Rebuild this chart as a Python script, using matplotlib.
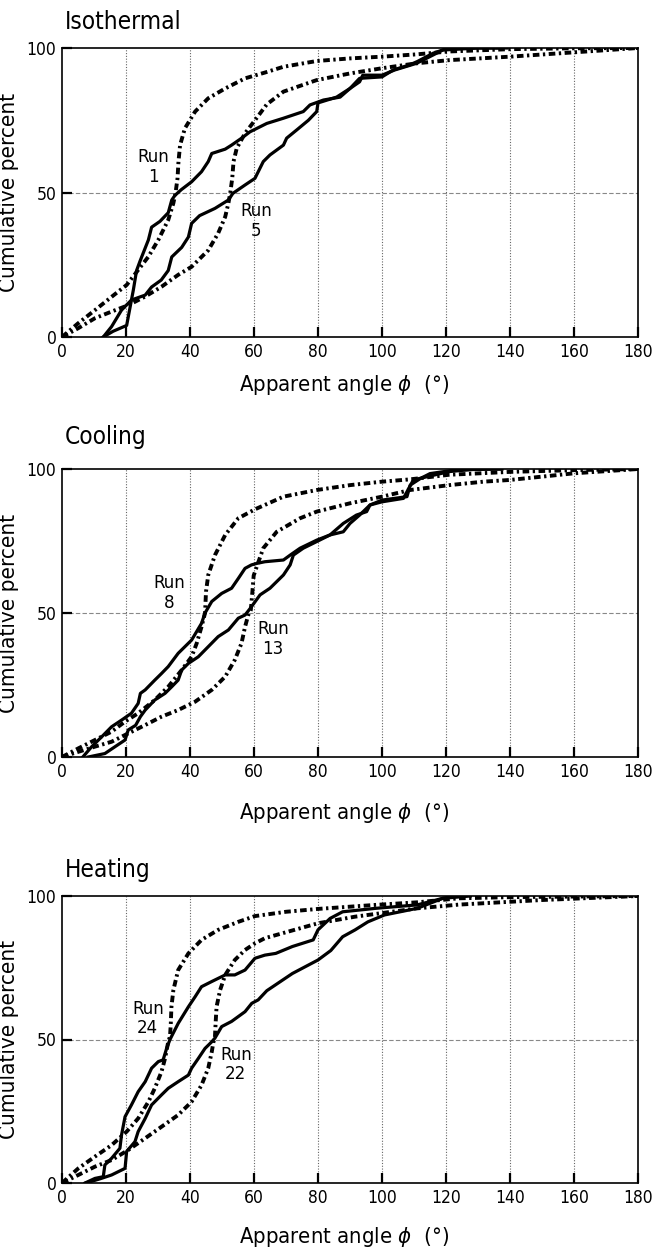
import matplotlib
matplotlib.use("Agg")
from matplotlib import pyplot as plt
from matplotlib import font_manager

# narrow sans if there is one, else DejaVu condensed
names = {f.name for f in font_manager.fontManager.ttflist}
narrow = [n for n in ['Liberation Sans Narrow', 'DejaVu Sans Condensed'] if n in names]
plt.rcParams['font.family'] = narrow + ['DejaVu Sans']
plt.rcParams['font.stretch'] = 'condensed'
plt.rcParams['mathtext.fontset'] = 'dejavusans'

# ---- Isothermal ----
run1_fit_x = [0, 5, 10.3, 15.5, 20.2, 23.8, 27, 30.1, 33.2, 34.8, 35.5, 36.1, 36.4, 36.9, 38.4, 41.6,
              45.7, 51, 57.2, 63.4, 69.2, 79.6, 90, 100, 110.8, 121, 140, 160, 180]
run1_fit_y = [0, 4.7, 9.3, 13.9, 18, 23.2, 27.8, 33.6, 40.5, 46.3, 50, 54.9, 60.7, 66.4, 72.2, 78,
              82.6, 86, 89.5, 91.5, 93.5, 95.5, 96.4, 97, 97.8, 98.8, 99.6, 99.9, 100]
run5_fit_x = [0, 5, 10.3, 15.5, 20.7, 26, 31.1, 36.3, 40.5, 45.7, 48.8, 51, 52, 52.6, 53.2, 53.6,
              54.6, 57.2, 60.3, 64, 69.2, 79.6, 90, 100, 110.8, 121, 140, 160, 180]
run5_fit_y = [0, 3, 6.5, 8.8, 11, 14, 17.4, 21.5, 24.3, 30, 35.9, 41.6, 46.3, 50, 54.9, 60.7,
              65.3, 70.5, 75, 80.5, 84.9, 88.9, 91.2, 93, 94.7, 95.8, 97, 98.5, 100]
run1_x = [12.9, 16, 20.2, 22.3, 23.3, 24.4, 27, 28, 30.6, 33.2, 34.3, 35.3, 37.3, 40.5, 43.6, 45.7,
          46.8, 51, 53, 56, 58.75, 64, 69.2, 75.4, 77.5, 81.7, 86.9, 90, 93, 100, 103.5, 108.5,
          111, 116, 120, 130, 137]
run1_y = [0, 2, 4, 16.3, 23, 26.3, 33.6, 38, 40, 43, 47.4, 49, 51, 53.7, 57.2, 60.7,
          63.5, 65, 66.4, 68.7, 71, 73.9, 75.7, 78, 80.3, 82, 83, 86, 89.5, 90, 92.4, 94.1,
          95.3, 98.2, 99.7, 100, 100]
run5_x = [12.9, 15.5, 18.6, 21.7, 26, 28, 31, 33.2, 34.3, 37.4, 39.5, 40.5, 43, 47.8, 52, 53.4,
          57.2, 60.3, 62.9, 65, 69.2, 70.2, 73.3, 77, 79.6, 80, 85.8, 90, 93, 94, 100, 104,
          110.8, 116, 119, 130, 139]
run5_y = [0, 3.6, 9.3, 12.8, 14.5, 17.3, 19.7, 23, 27.7, 31, 34.6, 39.3, 42, 44.5, 47.4, 49.7,
          52.6, 54.9, 60.7, 63, 66.4, 68.8, 71.6, 75, 78, 81, 83, 86, 88.3, 90.6, 90.6, 92.4,
          94.7, 97.6, 99.3, 100, 100]

# ---- Cooling ----
run8_fit_x = [0, 5.1, 10.3, 15.5, 19.7, 23.8, 29, 33.2, 37.4, 40.5, 42.1, 43.6, 44.7, 45, 45.7,
              47.8, 51, 55.1, 60.3, 69.2, 79.6, 90, 100, 108.75, 121, 140, 160, 180]
run8_fit_y = [0, 3, 5.9, 8.8, 12.3, 15.2, 19.8, 24.4, 30.2, 34.8, 39.5, 45.2, 50, 57.4, 63.2,
              70.1, 77.1, 82.9, 86, 90.4, 92.7, 94.4, 95.6, 96.4, 98, 99, 99.6, 100]
run13_fit_x = [0, 5.1, 10.3, 15.5, 20.7, 26, 31.1, 36.3, 41.6, 46.8, 51, 54, 56.1, 57.2, 58.2, 59,
               59.5, 59.9, 61.3, 62.9, 67.1, 74.4, 79.6, 90, 100, 108.75, 121, 131.7, 140, 160, 180]
run13_fit_y = [0, 1.8, 3.6, 5.3, 8.2, 11.1, 14, 16.3, 19.2, 23.3, 27.9, 33.7, 39.5, 45.2, 49.3, 51,
               57.4, 63, 67.5, 72.5, 78.2, 82.9, 85.2, 88.1, 90.4, 92.7, 94.4, 95.6, 96.2, 98.5, 100]
run8_x = [6.5, 9.3, 12.4, 15.5, 18.6, 21.7, 23.8, 24.5, 26, 29, 31.1, 33.2, 36.3, 38.4, 40.5, 43.6,
          44.7, 46.8, 49.9, 53, 55.1, 57.2, 59.2, 60.8, 63.4, 69.2, 71.3, 74.4, 79.6, 83.75, 87.9,
          90, 93, 96.25, 100, 106.7, 107.8, 109.8, 114, 121, 129.6, 137.5]
run8_y = [0, 3.6, 7, 10.5, 12.8, 15.2, 18.6, 22.1, 23.3, 26.7, 29, 31.4, 36, 38.3, 40.6, 46.4,
          50, 54, 56.8, 58.6, 62, 65.5, 66.7, 67.2, 67.8, 68.4, 70.1, 72.5, 75.3, 77.1, 78.2,
          81.1, 84, 87.5, 88.6, 89.8, 92.1, 96.2, 97.3, 99.1, 100, 100]
run13_x = [8.2, 13.4, 16.6, 19.7, 20.7, 23, 24.5, 26, 29, 32.2, 34.3, 36.3, 37.4, 39.5, 42.6, 45.7,
           48.8, 52, 55.1, 57.2, 58.75, 61.9, 65, 69.2, 71.3, 72.3, 75.4, 79.6, 83.75, 87.9, 92,
           95.2, 96.25, 100, 107.8, 108.8, 112, 115, 123, 137]
run13_y = [0, 1.2, 3.6, 5.9, 9.4, 11, 14, 16.3, 19.8, 22.1, 24.4, 26.7, 30.2, 32.5, 34.8, 38.3,
           41.8, 44.1, 48.2, 49.3, 51.5, 56.3, 58.6, 63.2, 66.7, 70.1, 72.5, 74.8, 77.1, 81.1, 84,
           85.2, 87.5, 89.2, 90.4, 94.4, 96.7, 98.4, 99.7, 100]

# ---- Heating ----
run24_fit_x = [0, 5.1, 10.3, 15.5, 20.2, 23.8, 27, 29, 31.1, 32.2, 33.2, 33.75, 34, 34.2, 34.8, 36.3,
               39.5, 43.6, 48.8, 55.1, 60.3, 70, 80, 98, 111, 124, 140, 160, 180]
run24_fit_y = [0, 5.1, 9.2, 13.2, 17.9, 22.5, 28.3, 33, 38.8, 43.4, 49.2, 51, 55.6, 61.4, 67.2, 74.2,
               80, 84.7, 88.2, 91, 93, 94.5, 95.5, 96.9, 97.8, 99.2, 99.6, 99.8, 100]
run22_fit_x = [0, 5.1, 10.3, 15.5, 20.7, 26, 31.1, 36.3, 40.5, 43.6, 45.7, 46.8, 47.3, 47.8, 48, 48.3,
               49.4, 51, 54, 57.2, 60.3, 63.4, 72, 80, 91.6, 111, 124, 150, 180]
run22_fit_y = [0, 2.8, 5.7, 8, 11.5, 15.6, 19.6, 23.7, 28.3, 34.1, 40, 45.7, 49, 51, 55.6, 61.4,
               67.2, 72.5, 77.7, 81.2, 83.5, 85.3, 88, 90.5, 92.8, 95.7, 97, 98.6, 100]
run24_x = [7.2, 10.3, 12.9, 13.4, 15.5, 18.1, 18.6, 19.7, 21.7, 23.8, 26, 28, 30.1, 31.6, 32.7, 33.75,
           34.2, 36.3, 39.5, 41.6, 43.6, 46.8, 51, 54, 57.2, 60.3, 63.4, 66.8, 72, 78.5, 80, 83.8,
           87.7, 98, 111, 119, 123]
run24_y = [0, 1.6, 2.2, 6.3, 8.6, 12.1, 16.7, 23.1, 27.2, 31.8, 35.3, 40, 42.3, 42.9, 46.9, 50,
           51, 55.6, 61.4, 64.9, 68.4, 70.2, 72.5, 72.5, 74.2, 78.3, 79.4, 80, 82.4, 84.7, 88.2, 92.2,
           94.5, 95.7, 96.9, 99.2, 100]
run22_x = [7.5, 12, 15.5, 19.7, 20.2, 22.8, 23.8, 26, 28, 31.1, 33.2, 36.3, 39.5, 40.5, 42.6, 44.7,
           46.8, 47.8, 49.9, 53, 55.1, 57.2, 59.3, 61.3, 64, 72, 80, 84, 87.7, 91.6, 95.6, 100.8,
           111, 119, 127.6]
run22_y = [0, 1.5, 2.8, 5.1, 11, 14.4, 17.9, 22.5, 27.2, 30.7, 33, 35.3, 37.6, 40, 43.4, 46.9,
           49.2, 50.5, 54.5, 56.3, 58, 59.7, 62.6, 63.8, 67, 73, 77.7, 81, 85.8, 88.2, 91, 93.4,
           95.7, 99.2, 100]

titles = ['Isothermal', 'Cooling', 'Heating']
run_labels = [('Run\n1', 28.5, 58.8, 'Run\n5', 60.6, 40.1),
              ('Run\n8', 33.4, 57.0, 'Run\n13', 66.0, 41.0),
              ('Run\n24', 26.8, 57.4, 'Run\n22', 54.3, 41.2)]
panels = [
    (run1_fit_x, run1_fit_y, run5_fit_x, run5_fit_y, run1_x, run1_y, run5_x, run5_y),
    (run8_fit_x, run8_fit_y, run13_fit_x, run13_fit_y, run8_x, run8_y, run13_x, run13_y),
    (run24_fit_x, run24_fit_y, run22_fit_x, run22_fit_y, run24_x, run24_y, run22_x, run22_y),
]

W, H = 655, 1255
fig = plt.figure(figsize=(W / 100, H / 100), dpi=100)
# axes boxes in pixels: (top, bottom)
boxes = [(48, 337), (469, 757), (896, 1183)]
title_y = [22, 437, 870]
xlabel_y = [385, 813, 1237]
left, right = 62, 638
big = 16 if narrow else 14

for i, (top, bot) in enumerate(boxes):
    ax = fig.add_axes([left / W, 1 - bot / H, (right - left) / W, (bot - top) / H])
    fx1, fy1, fx2, fy2, sx1, sy1, sx2, sy2 = panels[i]
    dash = (1.7, 0.9, 0.6, 0.9)
    ax.plot(fx1, fy1, color='black', lw=2.8, dashes=dash)
    ax.plot(fx2, fy2, color='black', lw=2.8, dashes=dash)
    ax.plot(sx1, sy1, color='black', lw=2.3)
    ax.plot(sx2, sy2, color='black', lw=2.3)

    ax.set_xlim(0, 180)
    ax.set_ylim(0, 100)
    ax.set_xticks(range(0, 181, 20))
    ax.set_yticks([0, 50, 100])
    for x in range(20, 180, 20):
        ax.axvline(x, color='#666666', lw=0.8, ls=(0, (1, 1.5)), zorder=0)
    ax.axhline(50, color='#888888', lw=0.8, ls=(0, (4, 2)), zorder=0)
    ax.tick_params(direction='in', length=7, width=1.6, labelsize=12.5, pad=4)
    for sp in ax.spines.values():
        sp.set_linewidth(1.2)

    lab = run_labels[i]
    ax.text(lab[1], lab[2], lab[0], ha='center', va='center', fontsize=big * 0.95, linespacing=1.1)
    ax.text(lab[4], lab[5], lab[3], ha='center', va='center', fontsize=big * 0.95, linespacing=1.1)

    ax.set_ylabel('Cumulative percent', fontsize=big * 1.15)
    ax.yaxis.set_label_coords(-(left - 19) / (right - left), 0.5)
    ax.set_xlabel('Apparent angle $\\phi$  (°)', fontsize=big * 1.13, va='center')
    ax.xaxis.set_label_coords(0.49, -(xlabel_y[i] - bot) / (bot - top))
    fig.text(65 / W, 1 - title_y[i] / H, titles[i], fontsize=big * 1.25, ha='left', va='center')

fig.savefig('out.png', dpi=100)
